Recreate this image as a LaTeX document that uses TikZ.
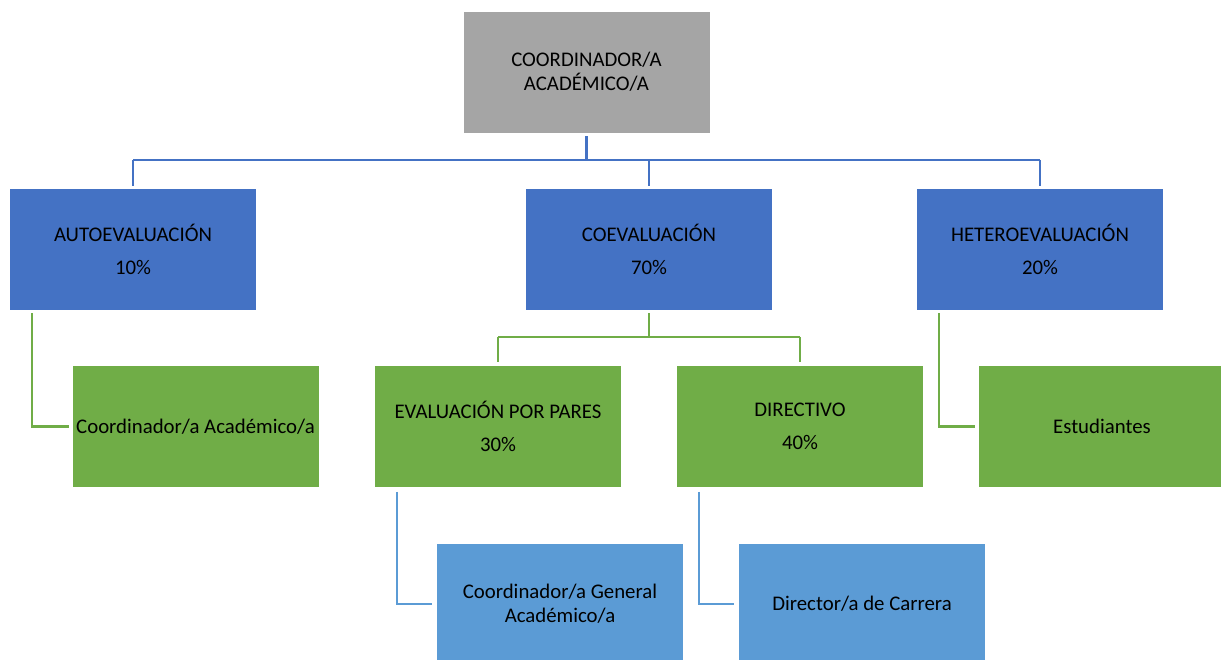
\documentclass[tikz,border=0pt]{standalone}
\usepackage{fontspec}
\setmainfont{Carlito}
\usetikzlibrary{calc}
\definecolor{cgray}{HTML}{A5A5A5}
\definecolor{cblue}{HTML}{4472C4}
\definecolor{cgreen}{HTML}{70AD47}
\definecolor{clblue}{HTML}{5B9BD5}
\tikzset{
  boxbase/.style={draw=white, line width=0.8pt, minimum width=247pt, minimum height=122pt, inner sep=0pt, align=center, text=black},
  twoline/.style={boxbase, font=\fontsize{20.8}{33}\selectfont},
  oneline/.style={boxbase, font=\fontsize{20.8}{24}\selectfont},
  grayb/.style={oneline, fill=cgray},
  blueb/.style={twoline, fill=cblue},
  greenb/.style={twoline, fill=cgreen},
  lblueb/.style={oneline, fill=clblue},
  blline/.style={draw=cblue, line width=2.3pt},
  grline/.style={draw=cgreen, line width=2.3pt},
  lbline/.style={draw=clblue, line width=2.3pt},
}
\begin{document}
\begin{tikzpicture}[x=1pt,y=-1pt]
\useasboundingbox (0,0) rectangle (1221,660);
% boxes
\node[grayb] (top) at (586.5,72) {COORDINADOR/A\\ACADÉMICO/A};
\node[blueb] (auto) at (133,249) {AUTOEVALUACIÓN\\10\%};
\node[blueb] (coev) at (649,249) {COEVALUACIÓN\\70\%};
\node[blueb] (hetero) at (1040,249) {HETEROEVALUACIÓN\\20\%};
\node[greenb] (g1) at (195.5,426.5) {Coordinador/a Académico/a};
\node[greenb] (g2) at (498,426.5) {EVALUACIÓN POR PARES\\30\%};
\node[greenb] (g3) at (800,426.5) {DIRECTIVO\\40\%};
\node[greenb] (g4) at (1102,426.5) {Estudiantes};
\node[lblueb] (lb1) at (560,604) {Coordinador/a General\\Académico/a};
\node[lblueb] (lb2) at (862,604) {Director/a de Carrera};
% blue connectors
\coordinate (bus) at (586,160);
\draw[blline] ($(top.south)+(0,3)$) -- (top.south |- bus);
\draw[blline] (auto.north |- bus) -- (hetero.north |- bus);
\foreach \n in {auto,coev,hetero}
  \draw[blline] (\n.north |- bus) -- ($(\n.north)+(0,-2)$);
% green connectors
\coordinate (bus2) at (649,337);
\draw[grline] ($(coev.south)+(0,3)$) -- (coev.south |- bus2);
\draw[grline] (g2.north |- bus2) -- (g3.north |- bus2);
\foreach \n in {g2,g3}
  \draw[grline] (\n.north |- bus2) -- ($(\n.north)+(0,-3)$);
\draw[grline] ($(auto.south west)+(23,3)$) |- ($(g1.west)+(-3,0)$);
\draw[grline] ($(hetero.south west)+(23,3)$) |- ($(g4.west)+(-3,0)$);
% light blue connectors
\draw[lbline] ($(g2.south west)+(23,4)$) |- ($(lb1.west)+(-4,0)$);
\draw[lbline] ($(g3.south west)+(23,4)$) |- ($(lb2.west)+(-4,0)$);
\end{tikzpicture}
\end{document}
